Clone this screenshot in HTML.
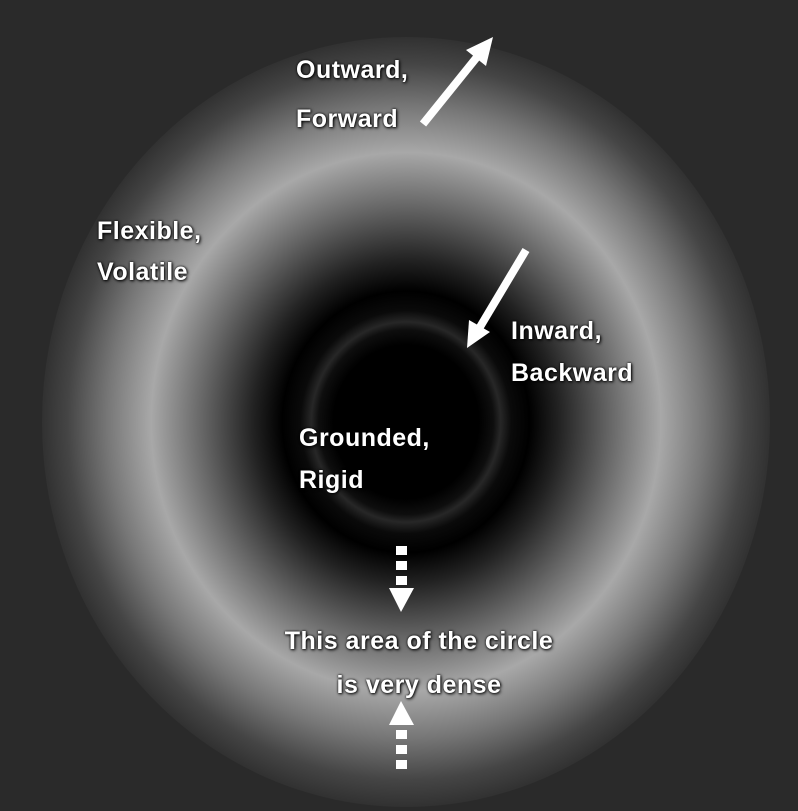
<!DOCTYPE html>
<html><head><style>
html,body{margin:0;padding:0;background:#2a2a2a;}
#c{position:relative;width:798px;height:811px;overflow:hidden;background:#2a2a2a;}
#d{position:absolute;left:42px;top:37px;width:728px;height:770px;border-radius:50%;
background:radial-gradient(ellipse farthest-side at 50% 50%,#000 0%,#000 20%,#0e0e0e 24%,#272727 26%,#0a0a0a 29%,#000 34%,#222 42%,#666 56%,#a8a8a8 70%,#777 82%,#454545 93%,#313131 100%);}
.t{position:absolute;color:#fff;font-family:"Liberation Sans",sans-serif;font-weight:bold;font-size:25px;letter-spacing:0.5px;line-height:43px;text-shadow:1px 1px 3px #000,0 0 2px #000;}
svg{position:absolute;left:0;top:0;}
</style></head><body><div id="c">
<div id="d"></div>
<svg width="798" height="811">
<g fill="#fff" stroke="none">
<line x1="423" y1="124" x2="477" y2="57" stroke="#fff" stroke-width="8"/>
<polygon points="493,37 466,50 486,66"/>
<line x1="526" y1="250" x2="480" y2="327" stroke="#fff" stroke-width="8"/>
<polygon points="467,348 469,320 490,332"/>
<rect x="396" y="546" width="11" height="9"/><rect x="396" y="561" width="11" height="9"/><rect x="396" y="576" width="11" height="9"/>
<polygon points="389,588 414,588 401,612"/>
<polygon points="389,725 414,725 401,701"/>
<rect x="396" y="730" width="11" height="9"/><rect x="396" y="745" width="11" height="9"/><rect x="396" y="760" width="11" height="9"/>
</g></svg>
<div class="t" style="left:296px;top:46px;line-height:49px">Outward,<br>Forward</div>
<div class="t" style="left:97px;top:211px;line-height:41px">Flexible,<br>Volatile</div>
<div class="t" style="left:511px;top:310px;line-height:42px">Inward,<br>Backward</div>
<div class="t" style="left:299px;top:417px;line-height:42px">Grounded,<br>Rigid</div>
<div class="t" style="left:218px;top:619px;width:402px;text-align:center;line-height:44px">This area of the circle<br>is very dense</div>
</div></body></html>
